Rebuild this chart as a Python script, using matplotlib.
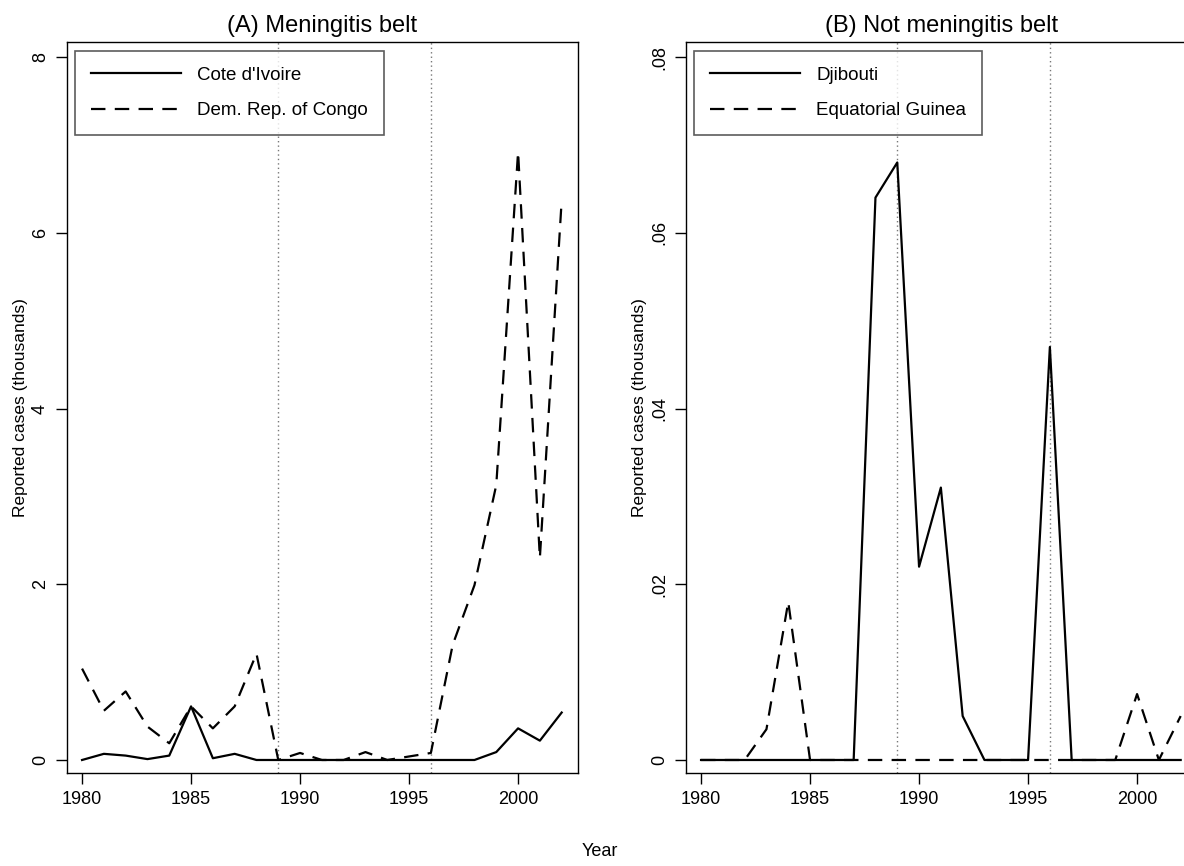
import matplotlib
matplotlib.use("Agg")
import matplotlib.pyplot as plt

plt.rcParams['font.family'] = ['Liberation Sans', 'DejaVu Sans']

years = list(range(1980, 2003))

cote_divoire = [0.00, 0.07, 0.05, 0.01, 0.05, 0.61, 0.02, 0.07, 0.00, 0.00,
                0.00, 0.00, 0.00, 0.00, 0.00, 0.00, 0.00, 0.00, 0.00, 0.09,
                0.36, 0.22, 0.54]
drc = [1.04, 0.56, 0.78, 0.38, 0.19, 0.61, 0.36, 0.61, 1.21, 0.00,
       0.08, 0.00, 0.00, 0.09, 0.00, 0.04, 0.08, 1.31, 1.99, 3.13,
       6.92, 2.30, 6.37]

djibouti = [0, 0, 0, 0, 0, 0, 0, 0, 0.064, 0.068,
            0.022, 0.031, 0.005, 0, 0, 0, 0.047, 0, 0, 0,
            0, 0, 0]
eq_guinea = [0, 0, 0, 0.0035, 0.018, 0, 0, 0, 0, 0,
             0, 0, 0, 0, 0, 0, 0, 0, 0, 0,
             0.0075, 0, 0.005]

event_years = [1989, 1996]
x_ticks = [1980, 1985, 1990, 1995, 2000]
a_yticks = [0, 2, 4, 6, 8]
a_yticklabels = ['0', '2', '4', '6', '8']
b_yticks = [0, 0.02, 0.04, 0.06, 0.08]
b_yticklabels = ['0', '.02', '.04', '.06', '.08']

fig = plt.figure(figsize=(11.84, 8.66), dpi=100)
axA = fig.add_axes([0.0566, 0.1074, 0.4316, 0.844])
axB = fig.add_axes([0.5794, 0.1074, 0.4316, 0.844])

dash = (6.5, 4.2)

def style(ax, title, yt, ytl, ylim):
    for yr in event_years:
        ax.axvline(yr, color='#777777', linestyle=(0, (1, 2.2)), linewidth=1.0, zorder=1)
    ax.set_xlim(1979.31, 2002.75)
    ax.set_ylim(*ylim)
    ax.set_xticks(x_ticks)
    ax.set_yticks(yt)
    ax.set_yticklabels(ytl, rotation=90, va='center')
    ax.tick_params(direction='out', length=8, width=1, labelsize=13, pad=5)
    ax.set_title(title, fontsize=17, pad=7)
    ax.set_ylabel('Reported cases (thousands)', fontsize=12.5, labelpad=3)
    for s in ax.spines.values():
        s.set_linewidth(1.0)
    leg = ax.legend(loc='upper left', fontsize=13.5, handlelength=4.8,
                    frameon=True, fancybox=False, edgecolor='#333333',
                    borderaxespad=0.45, borderpad=0.85, labelspacing=1.0,
                    handletextpad=0.85)
    leg.get_frame().set_linewidth(1.2)

axA.plot(years, cote_divoire, color='black', linewidth=1.6, label="Cote d'Ivoire", zorder=3)
axA.plot(years, drc, color='black', linewidth=1.6, dashes=dash, label='Dem. Rep. of Congo', zorder=3)
style(axA, '(A) Meningitis belt', a_yticks, a_yticklabels, (-0.148, 8.17))

axB.plot(years, djibouti, color='black', linewidth=1.6, label='Djibouti', zorder=3)
axB.plot(years, eq_guinea, color='black', linewidth=1.6, dashes=dash, label='Equatorial Guinea', zorder=3)
style(axB, '(B) Not meningitis belt', b_yticks, b_yticklabels, (-0.00148, 0.0817))

fig.text(0.5068, 0.0069, 'Year', ha='center', va='bottom', fontsize=13)

fig.savefig('out.png', dpi=100)
